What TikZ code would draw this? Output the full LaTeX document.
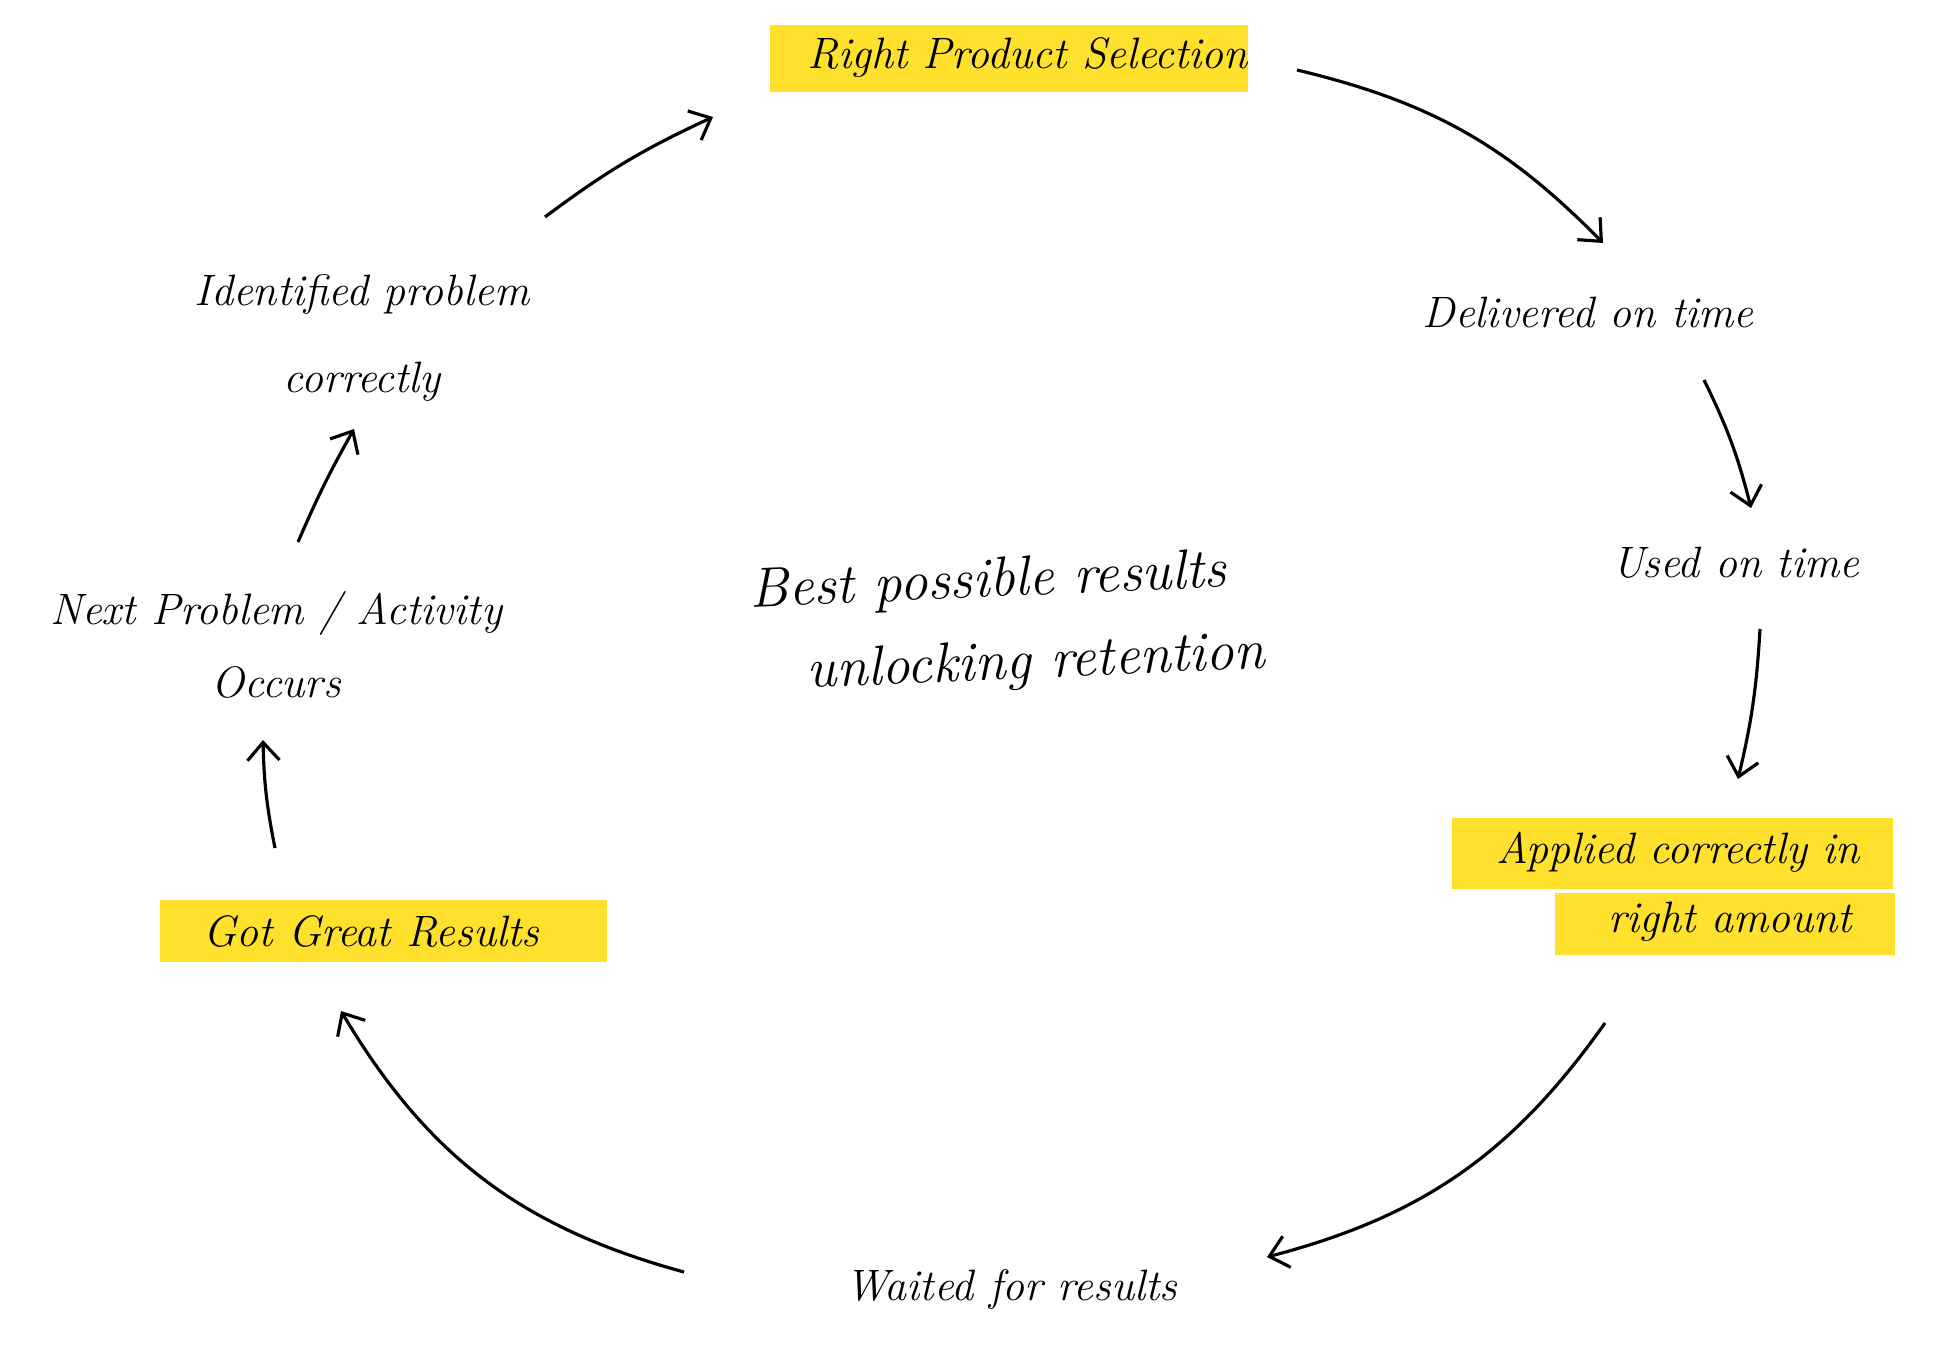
\documentclass[tikz,border=0pt]{standalone}
\usepackage{tikz}
\usetikzlibrary{arrows.meta, backgrounds}
\definecolor{marker}{RGB}{255,225,45}

\begin{document}
\begin{tikzpicture}[
    x=0.01cm,
    y=-0.01cm,
    note/.style={font=\fontsize{12.5}{21}\selectfont\itshape, align=center,
                 inner sep=2pt},
    big/.style={font=\fontsize{16}{21}\selectfont\itshape, rotate=2.5},
    flow/.style={-{Straight Barb[length=1.8mm,width=3.2mm]}, line width=0.9pt},
    hl/.style={fill=marker},
]
\useasboundingbox (0,0) rectangle (1933,1358);

\node[note] (sel)   at (1028,58)  {Right Product Selection};
\node[note] (deliv) at (1588,312) {Delivered on time};
\node[note] (used)  at (1736,563) {Used on time};
\node[note] (app1)  at (1678,852) {Applied correctly in};
\node[note] (app2)  at (1730,922) {right amount};
\node[note] (wait)  at (1011,1290) {Waited for results};
\node[note] (got)   at (371,931)  {Got Great Results};
\node[note] (next)  at (276,645)  {Next Problem / Activity\\Occurs};
\node[note, font=\fontsize{12.5}{25}\selectfont\itshape]
            (ident) at (362,338)  {Identified problem\\correctly};
\node[note, big] (best1) at (988,583) {Best possible results};
\node[note, big] (best2) at (1036,664) {unlocking retention};

\begin{scope}[on background layer]
\fill[hl] ([shift={(-258,-33)}]sel.center)  rectangle ([shift={(220,34)}]sel.center);
\fill[hl] ([shift={(-226,-34)}]app1.center) rectangle ([shift={(215,37)}]app1.center);
\fill[hl] ([shift={(-175,-29)}]app2.center) rectangle ([shift={(165,33)}]app2.center);
\fill[hl] ([shift={(-211,-31)}]got.center)  rectangle ([shift={(236,31)}]got.center);
\end{scope}

\draw[flow] ([shift={(183,-121)}]ident.center) to[bend left=6]
    ([shift={(-315,59)}]sel.center);
\draw[flow] ([shift={(269,12)}]sel.center) to[bend left=16]
    ([shift={(15,-69)}]deliv.center);
\draw[flow] ([shift={(116,68)}]deliv.center) to[bend left=6]
    ([shift={(15,-55)}]used.center);
\draw[flow] ([shift={(24,66)}]used.center) to[bend left=5]
    ([shift={(60,-73)}]app1.center);
\draw[flow] ([shift={(-125,101)}]app2.center) to[bend left=20]
    ([shift={(256,-33)}]wait.center);
\draw[flow] ([shift={(-327,-18)}]wait.center) to[bend left=22]
    ([shift={(-30,80)}]got.center);
\draw[flow] ([shift={(-96,-83)}]got.center) to[bend left=5]
    ([shift={(-13,95)}]next.center);
\draw[flow] ([shift={(22,-103)}]next.center) to[bend left=3]
    ([shift={(-8,91)}]ident.center);
\end{tikzpicture}
\end{document}
